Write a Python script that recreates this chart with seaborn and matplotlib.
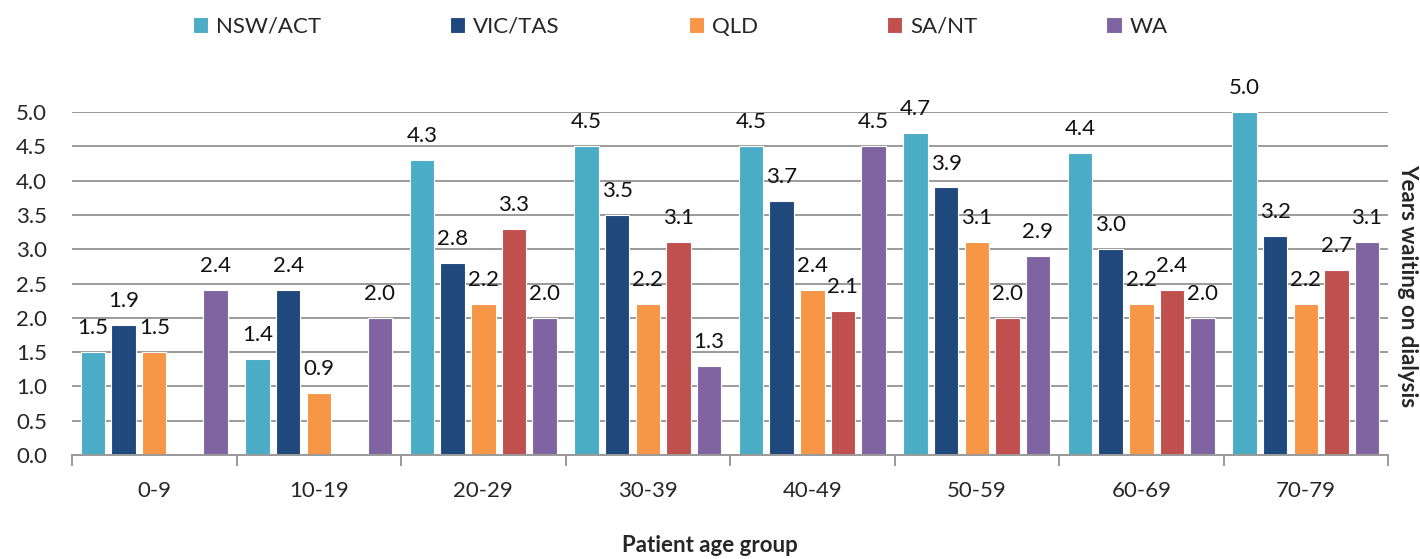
import numpy as np
import pandas as pd
import matplotlib
matplotlib.use("Agg")
import matplotlib.pyplot as plt
import seaborn as sns

age_groups = ["0-9", "10-19", "20-29", "30-39", "40-49", "50-59", "60-69", "70-79"]
regions = ["NSW/ACT", "VIC/TAS", "QLD", "SA/NT", "WA"]
nsw_act = [1.5, 1.4, 4.3, 4.5, 4.5, 4.7, 4.4, 5.0]
vic_tas = [1.9, 2.4, 2.8, 3.5, 3.7, 3.9, 3.0, 3.2]
qld = [1.5, 0.9, 2.2, 2.2, 2.4, 3.1, 2.2, 2.2]
sa_nt = [np.nan, np.nan, 3.3, 3.1, 2.1, 2.0, 2.4, 2.7]
wa = [2.4, 2.0, 2.0, 1.3, 4.5, 2.9, 2.0, 3.1]
colors = ["#4BACC6", "#1F497D", "#F79646", "#C0504D", "#8064A2"]

series = [nsw_act, vic_tas, qld, sa_nt, wa]
rows = []
for reg, vals in zip(regions, series):
    for grp, v in zip(age_groups, vals):
        rows.append({"Age group": grp, "Region": reg, "Years": v})
df = pd.DataFrame(rows)

sns.set_theme(style="white")
plt.rcParams["font.family"] = ["Lato", "DejaVu Sans"]

fig = plt.figure(figsize=(14.2, 5.59), dpi=100)
ax = fig.add_axes([0.0507, 0.186, 0.9268, 0.6136])

sns.barplot(data=df, x="Age group", y="Years", hue="Region",
            order=age_groups, hue_order=regions, palette=colors,
            width=0.93, gap=0.2, saturation=1, edgecolor="white",
            linewidth=0.8, ax=ax, legend=True)

for cont in ax.containers:
    ax.bar_label(cont, fmt="%.1f", padding=10, fontsize=16, color="#111111")

ax.set_ylim(0, 5)
ax.set_xlim(-0.5, len(age_groups) - 0.5)
ax.set_yticks(np.arange(0, 5.01, 0.5))
ax.set_yticklabels([f"{v:.1f}" for v in np.arange(0, 5.01, 0.5)], fontsize=16)
ax.yaxis.grid(True, color="#9a9a9a", linewidth=1.4)
ax.set_axisbelow(True)
ax.tick_params(axis="y", length=0, pad=18)

ax.set_xticks(range(len(age_groups)))
ax.set_xticklabels(age_groups, fontsize=16)
ax.set_xticks(np.arange(-0.5, len(age_groups), 1.0), minor=True)
ax.tick_params(axis="x", which="major", length=0, pad=19)
ax.tick_params(axis="x", which="minor", length=8, width=1.4, color="#9a9a9a",
               direction="out", bottom=True)

for side in ["left", "right", "top"]:
    ax.spines[side].set_visible(False)
ax.spines["bottom"].set_color("#9a9a9a")
ax.spines["bottom"].set_linewidth(1.4)

ax.set_xlabel("")
ax.set_ylabel("")
fig.text(0.5, 0.025, "Patient age group", ha="center", va="center",
         fontsize=16, fontweight="bold")
fig.text(0.991, 0.49, "Years waiting on dialysis", ha="center", va="center",
         rotation=270, fontsize=16, fontweight="bold")

handles, labels = ax.get_legend_handles_labels()
ax.get_legend().remove()
fig.legend(handles, labels, loc="center", bbox_to_anchor=(0.479, 0.952),
           ncol=5, frameon=False, fontsize=16, handlelength=0.7,
           handleheight=0.7, handletextpad=0.35, columnspacing=5.8)

fig.savefig("out.png", dpi=100)
